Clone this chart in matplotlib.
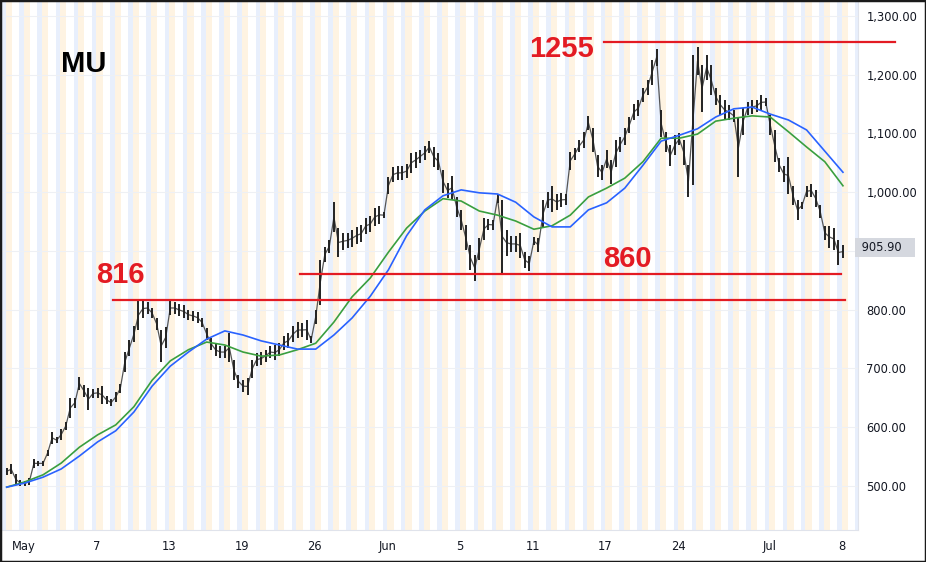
import numpy as np
import matplotlib.pyplot as plt
from matplotlib.patches import Rectangle

# MU, 4 bars per session (pre / regular / post), Apr 30 -> Jul 8
# trading day index 0 = May 1
bar_high = [531, 537, 520, 510, 509, 514, 546, 543, 543, 561,
            592, 583, 597, 609, 650, 650, 686, 672, 667, 665,
            667, 670, 653, 648, 660, 674, 728, 749, 772, 816,
            818, 813, 803, 786, 766, 771, 815, 813, 810, 808,
            800, 798, 796, 786, 769, 752, 742, 738, 738, 760,
            714, 689, 680, 684, 714, 726, 728, 732, 738, 740,
            743, 755, 760, 772, 779, 777, 783, 755, 800, 885,
            907, 919, 983, 939, 931, 931, 936, 941, 944, 956,
            960, 973, 977, 966, 1026, 1043, 1045, 1045, 1048, 1067,
            1069, 1072, 1079, 1087, 1077, 1067, 1038, 1016, 1028, 992,
            970, 944, 910, 893, 922, 956, 954, 953, 997, 987,
            936, 926, 926, 931, 898, 892, 924, 922, 987, 1000,
            1011, 997, 999, 997, 1069, 1075, 1089, 1103, 1130, 1109,
            1063, 1046, 1072, 1055, 1089, 1094, 1109, 1128, 1150, 1157,
            1177, 1191, 1225, 1244, 1140, 1103, 1080, 1097, 1101, 1089,
            1046, 1234, 1247, 1217, 1234, 1217, 1177, 1166, 1157, 1149,
            1140, 1126, 1143, 1154, 1157, 1157, 1166, 1160, 1132, 1106,
            1058, 1045, 1060, 1011, 987, 983, 1011, 1014, 1004, 978,
            943, 943, 939, 919, 910]
bar_low = [519, 520, 503, 500, 500, 502, 531, 534, 534, 551,
           572, 573, 578, 595, 616, 633, 663, 652, 629, 650,
           650, 640, 640, 636, 643, 658, 694, 721, 745, 766,
           786, 793, 786, 766, 711, 735, 791, 793, 789, 786,
           783, 781, 777, 771, 749, 732, 721, 718, 718, 711,
           680, 667, 660, 655, 684, 704, 706, 711, 718, 714,
           721, 732, 735, 745, 752, 754, 749, 743, 776, 808,
           881, 897, 932, 890, 902, 905, 907, 912, 915, 929,
           932, 943, 946, 956, 997, 1017, 1021, 1021, 1024, 1033,
           1041, 1050, 1055, 1067, 1043, 1038, 999, 990, 987, 958,
           936, 902, 868, 849, 885, 919, 936, 936, 982, 863,
           892, 898, 898, 888, 871, 866, 910, 898, 939, 973,
           966, 970, 975, 978, 1038, 1055, 1069, 1075, 1106, 1069,
           1026, 1021, 1041, 1014, 1043, 1069, 1080, 1101, 1123, 1130,
           1154, 1166, 1183, 1215, 1094, 1069, 1045, 1063, 1080, 1046,
           992, 1012, 1200, 1137, 1191, 1166, 1149, 1132, 1123, 1123,
           1120, 1026, 1097, 1132, 1133, 1137, 1140, 1147, 1097, 1052,
           1034, 1017, 997, 978, 953, 972, 992, 992, 975, 956,
           919, 905, 902, 876, 888]

# moving averages, one reading per session
ma_green = [498, 507, 519, 539, 566, 587, 604, 635, 680, 713,
            732, 745, 740, 728, 721, 723, 732, 743, 779, 822,
            854, 898, 939, 968, 989, 985, 968, 961, 951, 937,
            943, 961, 992, 1007, 1024, 1052, 1092, 1092, 1099, 1121,
            1126, 1130, 1128, 1103, 1077, 1052, 1011]
ma_blue = [498, 505, 515, 529, 551, 575, 594, 626, 670, 704,
           728, 750, 764, 757, 747, 740, 733, 733, 757, 786,
           823, 868, 926, 970, 994, 1004, 999, 997, 983, 958,
           941, 941, 970, 982, 1007, 1046, 1087, 1097, 1108, 1128,
           1142, 1145, 1133, 1123, 1106, 1070, 1034]

last_price = 905.90
levels = [1255, 860, 816]
level_text = ['1255', '860', '816']

date_days = [0, 4, 8, 12, 16, 20, 24, 28, 32, 36, 41, 45]
date_labels = ['May', '7', '13', '19', '26', 'Jun', '5', '11', '17', '24', 'Jul', '8']
price_ticks = [500, 600, 700, 800, 1000, 1100, 1200, 1300]

red = '#e31b23'
bar_t = -0.9375 + 0.25 * np.arange(len(bar_high))
ma_t = bar_t[::4]
bar_mid = (np.array(bar_high) + np.array(bar_low)) / 2

fig = plt.figure(figsize=(9.26, 5.62), dpi=100)
ax = fig.add_axes([2 / 926, 1 - 530 / 562, 856 / 926, 528 / 562])
ax.set_xlim(-1.194, 45.89)
ax.set_ylim(425.1, 1323.8)

# extended-hours shading: pre-market orange, post-market blue
for d in range(-2, 47):
    ax.axvspan(d, d + 5.5 / 16, color='#fef3e2', lw=0, zorder=0)
    ax.axvspan(d + 0.75, d + 1, color='#e8effc', lw=0, zorder=0)

for p in range(500, 1301, 100):
    ax.axhline(p, color='#eef0f4', lw=0.8, zorder=0.5)

ax.plot(bar_t, bar_mid, color='#555555', lw=0.9, zorder=2)
ax.vlines(bar_t, bar_low, bar_high, color='#222222', lw=1.4, zorder=2)
ax.plot(ma_t, ma_green, color='#3a9f3f', lw=1.2, zorder=3)
ax.plot(ma_t, ma_blue, color='#2962ff', lw=1.2, zorder=3)

# support / resistance lines
ax.plot([31.9, 47.9], [levels[0]] * 2, color=red, lw=1.6, clip_on=False, zorder=4)
ax.plot([15.2, 44.95], [levels[1]] * 2, color=red, lw=1.6, clip_on=False, zorder=4)
ax.plot([4.9, 45.2], [levels[2]] * 2, color=red, lw=1.6, clip_on=False, zorder=4)

big = dict(fontsize=21, fontweight='bold', family='Liberation Sans', ha='center', va='baseline')
ax.text(29.6, 1230, level_text[0], color=red, **big)
ax.text(33.2, 873, level_text[1], color=red, **big)
ax.text(5.3, 845, level_text[2], color=red, **big)
ax.text(3.3, 1205, 'MU', color='black', **big)

# axes
for s in ['top', 'left']:
    ax.spines[s].set_visible(False)
for s in ['right', 'bottom']:
    ax.spines[s].set_color('#e0e3eb')
ax.yaxis.tick_right()
ax.set_yticks(price_ticks)
ax.set_yticklabels([f'{p:,.2f}' for p in price_ticks])
ax.set_xticks(date_days)
ax.set_xticklabels(date_labels)
ax.tick_params(axis='y', length=0, pad=6, labelsize=8.3, labelcolor='#131722')
ax.tick_params(axis='x', length=0, pad=7, labelsize=8.3, labelcolor='#131722')
for lab in ax.get_yticklabels():
    lab.set_horizontalalignment('left')

ax.text(1.0, last_price, ' 905.90   ', transform=ax.get_yaxis_transform(),
        fontsize=8.3, color='#131722', va='center', ha='left',
        bbox=dict(boxstyle='square,pad=0.25', fc='#d5d8df', ec='none'))

fig.patches.append(Rectangle((0, 0), 1, 1, transform=fig.transFigure,
                             fill=False, ec='#1a1a1a', lw=2.5))

plt.savefig('out.png', dpi=100)
